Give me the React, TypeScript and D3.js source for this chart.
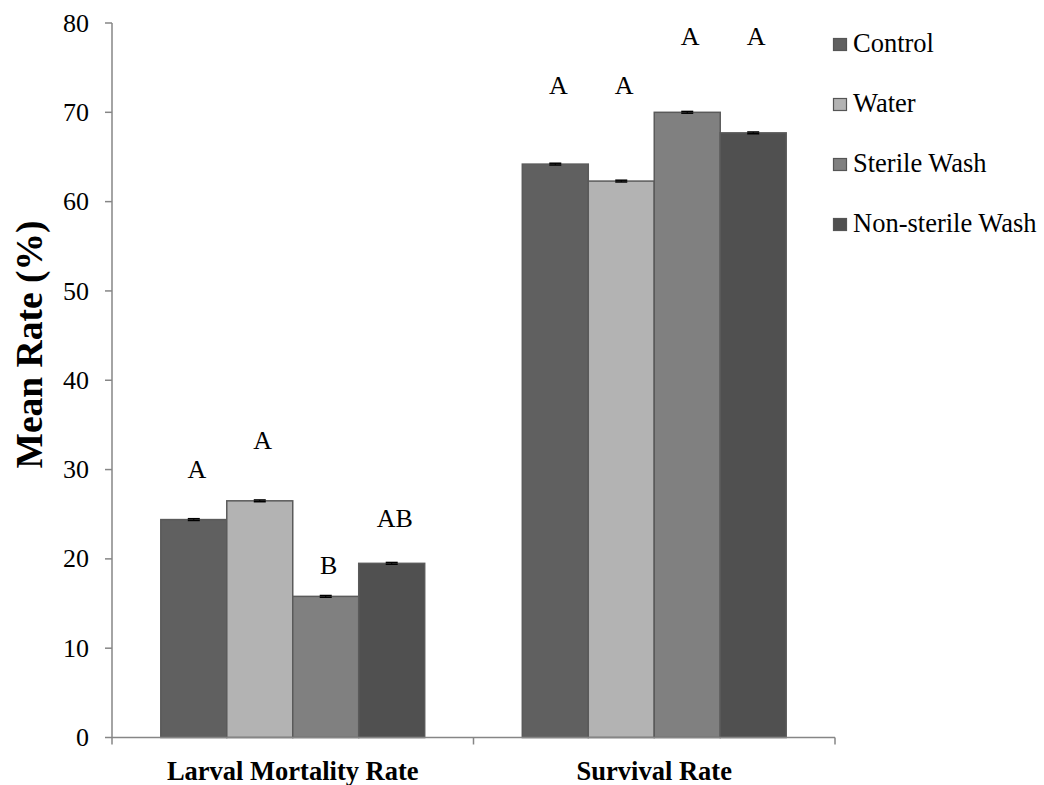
import React from "react";
import * as d3 from "d3";

const groups = ["Larval Mortality Rate", "Survival Rate"];
const treatments = ["Control", "Water", "Sterile Wash", "Non-sterile Wash"];
const colors = ["#606060", "#b3b3b3", "#808080", "#505050"];

const larvalValues = [24.4, 26.5, 15.8, 19.5];
const survivalValues = [64.2, 62.3, 70.0, 67.7];
const larvalErrors = [0.1, 0.1, 0.1, 0.1];
const survivalErrors = [0.1, 0.1, 0.1, 0.1];

// significance letters and the value height at which their baseline sits
const larvalLetters = ["A", "A", "B", "AB"];
const survivalLetters = ["A", "A", "A", "A"];
const larvalLetterAt = [29.1, 32.3, 18.3, 23.6];
const survivalLetterAt = [72.1, 72.1, 77.5, 77.5];

const yTicks = [0, 10, 20, 30, 40, 50, 60, 70, 80];

const FONT = "Liberation Serif";
const AXIS = "#868686";

const width = 1044;
const height = 785;
const left = 112;
const right = 835;
const top = 23;
const bottom = 737.5;

const x = d3.scaleBand().domain(groups).range([left, right]).padding(0);
const bw = x.bandwidth();
const inner = d3
  .scaleBand()
  .domain(treatments)
  .range([bw * 0.135, bw * 0.865])
  .padding(0);
const y = d3.scaleLinear().domain([0, 80]).range([bottom, top]);

const series = [
  { group: groups[0], values: larvalValues, errors: larvalErrors, letters: larvalLetters, at: larvalLetterAt },
  { group: groups[1], values: survivalValues, errors: survivalErrors, letters: survivalLetters, at: survivalLetterAt },
];

const App: React.FC = () => {
  const bounds = [left, ...groups.map((g) => (x(g) || 0) + bw)];
  return (
    <svg
      width={width}
      height={height}
      style={{ position: "absolute", left: 0, top: 0, background: "#fff" }}
      fontFamily={FONT}
    >
      {/* bars */}
      {series.map((s) => (
        <g key={s.group} transform={`translate(${x(s.group)},0)`}>
          {treatments.map((t, i) => {
            const x0 = inner(t) || 0;
            const cx = x0 + inner.bandwidth() / 2;
            const hi = s.values[i] + s.errors[i];
            const lo = s.values[i] - s.errors[i];
            return (
              <g key={t}>
                <rect
                  x={x0}
                  y={y(s.values[i])}
                  width={inner.bandwidth()}
                  height={y(0) - y(s.values[i])}
                  fill={colors[i]}
                  stroke="#5a5a5a"
                  strokeWidth={1.5}
                />
                <line x1={cx} x2={cx} y1={y(hi)} y2={y(lo)} stroke="#000" strokeWidth={1} />
                {[hi, lo].map((v, k) => (
                  <line key={k} x1={cx - 6} x2={cx + 6} y1={y(v)} y2={y(v)} stroke="#000" strokeWidth={1.5} />
                ))}
                <text
                  x={cx + 3}
                  y={y(s.at[i])}
                  textAnchor="middle"
                  fontSize={26}
                  fill="#000"
                  style={{ fontFamily: FONT }}
                >
                  {s.letters[i]}
                </text>
              </g>
            );
          })}
        </g>
      ))}

      {/* y axis */}
      <line x1={left} x2={left} y1={top} y2={bottom} stroke={AXIS} strokeWidth={1.5} />
      {yTicks.map((t) => (
        <g key={t} transform={`translate(0,${y(t)})`}>
          <line x1={left - 7} x2={left} stroke={AXIS} strokeWidth={1.5} />
          <text
            x={left - 23}
            dy="0.33em"
            textAnchor="end"
            fontSize={26}
            fill="#000"
            style={{ fontFamily: FONT }}
          >
            {t}
          </text>
        </g>
      ))}

      {/* x axis */}
      <line x1={left} x2={right} y1={y(0)} y2={y(0)} stroke={AXIS} strokeWidth={1.5} />
      {bounds.map((b) => (
        <line key={b} x1={b} x2={b} y1={y(0)} y2={y(0) + 7} stroke={AXIS} strokeWidth={1.5} />
      ))}
      {groups.map((g) => (
        <text
          key={g}
          x={(x(g) || 0) + bw / 2}
          y={780}
          textAnchor="middle"
          fontSize={26.5}
          fontWeight="bold"
          fill="#000"
          style={{ fontFamily: FONT }}
        >
          {g}
        </text>
      ))}

      {/* y title */}
      <text
        transform="translate(42,344.5) rotate(-90)"
        textAnchor="middle"
        fontSize={37.5}
        fontWeight="bold"
        fill="#000"
        style={{ fontFamily: FONT }}
      >
        Mean Rate (%)
      </text>

      {/* legend */}
      <g transform="translate(833,0)">
        {treatments.map((t, i) => (
          <g key={t} transform={`translate(0,${44 + i * 60})`}>
            <rect x={0.5} y={-5.5} width={13} height={12} fill={colors[i]} stroke="#555" strokeWidth={1.2} />
            <text x={20} y={8} fontSize={26.5} fill="#000" style={{ fontFamily: FONT }}>
              {t}
            </text>
          </g>
        ))}
      </g>
    </svg>
  );
};

export default App;
